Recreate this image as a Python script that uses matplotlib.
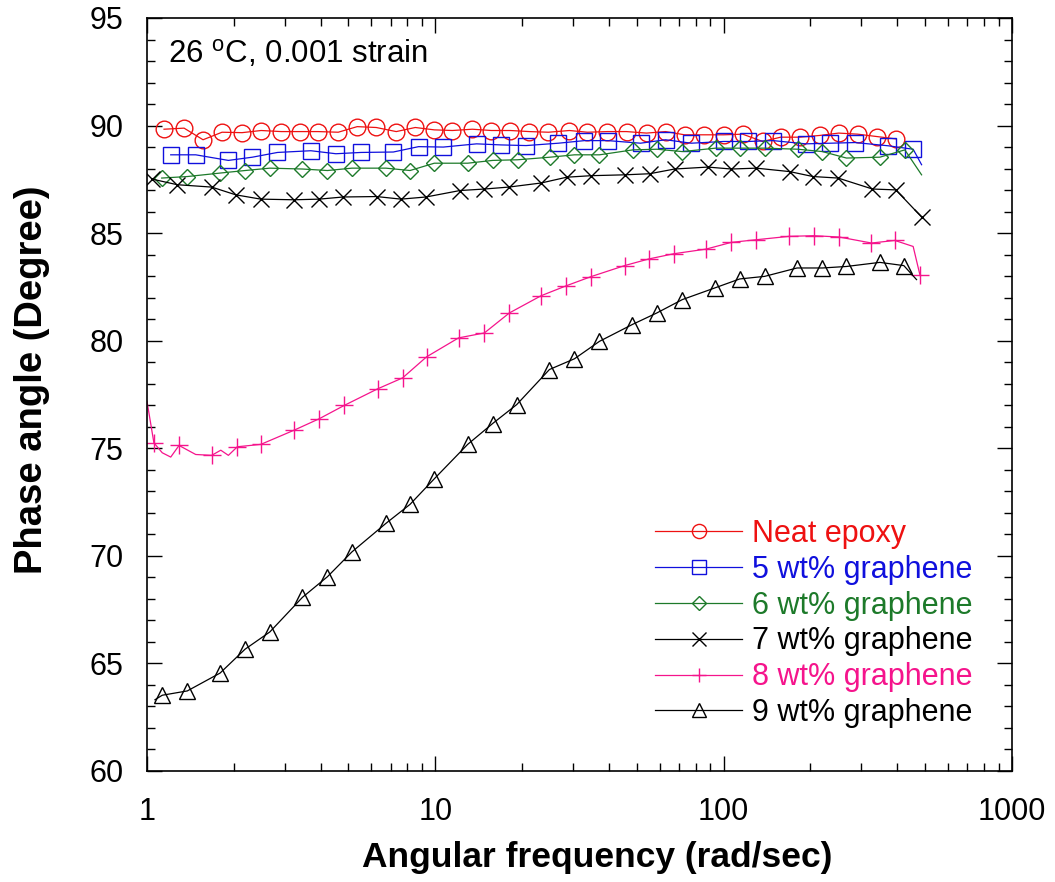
import matplotlib
matplotlib.use("Agg")
import matplotlib.pyplot as plt
from matplotlib.ticker import MultipleLocator, LogLocator, NullFormatter

plt.rcParams["font.family"] = ["Liberation Sans", "DejaVu Sans"]
plt.rcParams["mathtext.fontset"] = "custom"
plt.rcParams["mathtext.rm"] = "Liberation Sans"

# Neat epoxy
freq_neat = [1.146, 1.345, 1.565, 1.821, 2.137, 2.488, 2.920, 3.399, 3.925, 4.605,
             5.360, 6.239, 7.321, 8.522, 9.92, 11.46, 13.44, 15.65, 18.21, 21.20,
             24.69, 29.20, 33.72, 39.55, 46.05, 54.03, 62.89, 73.21, 85.22, 100.0,
             116.4, 136.6, 157.7, 183.6, 215.4, 250.6, 291.7, 339.6, 395.4]
phase_neat = [89.83, 89.88, 89.34, 89.69, 89.67, 89.77, 89.72, 89.72, 89.72, 89.69,
              89.95, 89.91, 89.72, 89.91, 89.80, 89.77, 89.83, 89.77, 89.77, 89.72,
              89.69, 89.77, 89.69, 89.72, 89.72, 89.65, 89.72, 89.57, 89.57, 89.57,
              89.60, 89.26, 89.46, 89.46, 89.54, 89.65, 89.60, 89.49, 89.38]

# 5 wt%
freq_5 = [1.209, 1.476, 1.916, 2.321, 2.835, 3.701, 4.521, 5.521, 7.150, 8.750,
          10.66, 13.91, 16.91, 20.65, 26.73, 32.92, 39.67, 51.49, 62.89, 77.24,
          100.0, 121.5, 148.3, 192.7, 234.7, 285.7, 372.0, 454.3, 485.9]
phase_5 = [88.64, 88.64, 88.38, 88.53, 88.75, 88.83, 88.69, 88.75, 88.77, 89.02,
           89.00, 89.15, 89.10, 89.07, 89.18, 89.30, 89.30, 89.18, 89.34, 89.18,
           89.26, 89.26, 89.30, 89.15, 89.18, 89.21, 89.06, 88.90, 88.18]

# 6 wt%
freq_6 = [1.125, 1.380, 1.788, 2.189, 2.667, 3.461, 4.227, 5.137, 6.744, 8.170,
          9.92, 12.95, 15.81, 19.31, 25.02, 30.39, 37.10, 48.43, 58.67, 71.89,
          93.8, 113.7, 138.8, 181.1, 220.2, 266.7, 348.1, 425.1, 485.9]
phase_6 = [87.56, 87.63, 87.79, 87.91, 88.02, 87.98, 87.91, 88.02, 88.02, 87.91,
           88.25, 88.25, 88.38, 88.41, 88.53, 88.64, 88.64, 88.87, 88.90, 88.79,
           88.95, 88.95, 88.95, 88.90, 88.79, 88.49, 88.53, 88.87, 87.71]

# 7 wt%
freq_7 = [1.043, 1.274, 1.677, 2.032, 2.482, 3.238, 3.956, 4.793, 6.256, 7.602,
          9.284, 12.18, 14.80, 17.97, 23.28, 28.58, 34.72, 45.33, 55.36, 67.60,
          88.2, 106.3, 129.9, 169.5, 204.2, 249.4, 328.3, 395.6, 485.9]
phase_7 = [87.51, 87.25, 87.14, 86.78, 86.58, 86.55, 86.58, 86.68, 86.70, 86.58,
           86.68, 86.98, 87.05, 87.14, 87.33, 87.60, 87.67, 87.71, 87.76, 87.98,
           88.07, 87.98, 88.02, 87.86, 87.63, 87.56, 87.05, 87.01, 85.75]

# 8 wt%
freq_8 = [1.0, 1.057, 1.130, 1.209, 1.292, 1.476, 1.677, 1.803, 1.916, 2.058,
          2.482, 3.238, 3.956, 4.831, 6.305, 7.700, 9.328, 12.04, 14.80, 18.07,
          23.28, 28.43, 34.72, 45.33, 55.04, 67.06, 87.1, 106.3, 129.2, 168.5,
          205.4, 251.4, 325.7, 392.5, 454.3, 479.3]
phase_8 = [77.19, 75.25, 74.79, 74.59, 75.13, 74.71, 74.67, 74.91, 74.67, 75.07,
           75.18, 75.84, 76.37, 76.99, 77.76, 78.27, 79.25, 80.13, 80.36, 81.29,
           82.09, 82.55, 82.98, 83.49, 83.80, 84.04, 84.26, 84.57, 84.69, 84.85,
           84.88, 84.82, 84.54, 84.66, 84.38, 83.07]

# 9 wt%
freq_9 = [1.066, 1.130, 1.380, 1.793, 2.189, 2.667, 3.461, 4.227, 5.137, 6.744,
          8.170, 9.92, 12.95, 15.81, 19.16, 24.88, 30.39, 37.10, 48.19, 58.67,
          71.89, 93.1, 113.7, 138.8, 179.7, 220.2, 266.7, 348.1, 421.7, 466.7]
phase_9 = [63.31, 63.52, 63.72, 64.55, 65.66, 66.46, 68.07, 69.03, 70.18, 71.51,
           72.39, 73.58, 75.18, 76.15, 77.03, 78.66, 79.16, 79.97, 80.75, 81.29,
           81.91, 82.45, 82.87, 82.99, 83.38, 83.38, 83.45, 83.64, 83.49, 82.84]

labels = ["Neat epoxy", "5 wt% graphene", "6 wt% graphene",
          "7 wt% graphene", "8 wt% graphene", "9 wt% graphene"]
x_ticks = [1, 10, 100, 1000]
x_tick_labels = ["1", "10", "100", "1000"]

RED, BLUE, GREEN, PINK = "#ee1111", "#1010dd", "#1d7a2a", "#f5148c"

# (x, y, colour, marker, which points carry a marker)
series = [
    (freq_neat, phase_neat, RED, "o", None),
    (freq_5, phase_5, BLUE, "s", list(range(len(freq_5) - 1))),
    (freq_6, phase_6, GREEN, "D", list(range(len(freq_6) - 1))),
    (freq_7, phase_7, "black", "x", None),
    (freq_8, phase_8, PINK, "+", [1, 4, 6] + list(range(9, 34)) + [35]),
    (freq_9, phase_9, "black", "^", list(range(1, len(freq_9) - 1))),
]
msizes = {"o": 12, "s": 11.5, "D": 8.5, "x": 12, "+": 12.5, "^": 11.5}

fig = plt.figure(figsize=(10.55, 8.82), dpi=100)
ax = fig.add_axes([0.1393, 0.1259, 0.8199, 0.8537])

for (xs, ys, color, mk, every), label in zip(series, labels):
    ax.plot(xs, ys, color=color, linewidth=0.9, marker=mk, markevery=every,
            markersize=msizes[mk], markerfacecolor="none", markeredgecolor=color,
            markeredgewidth=1.0, label=label)

ax.set_xscale("log")
ax.set_xlim(1, 1000)
ax.set_ylim(60, 95)
ax.yaxis.set_major_locator(MultipleLocator(5))
ax.yaxis.set_minor_locator(MultipleLocator(1))
ax.xaxis.set_minor_locator(LogLocator(base=10, subs=range(2, 10)))
ax.xaxis.set_minor_formatter(NullFormatter())
ax.set_xticks(x_ticks)
ax.set_xticklabels(x_tick_labels)

ax.tick_params(which="both", direction="in", top=True, right=True, width=1.0,
               labelsize=22)
ax.tick_params(which="major", length=11)
ax.tick_params(which="minor", length=5.5)
ax.tick_params(axis="y", which="major", pad=17)
ax.tick_params(axis="x", which="major", pad=19)
for s in ax.spines.values():
    s.set_linewidth(1.2)

ax.set_xlabel("Angular frequency (rad/sec)", fontsize=25.5, fontweight="bold")
ax.set_ylabel("Phase angle (Degree)", fontsize=27.5, fontweight="bold")
ax.xaxis.set_label_coords(0.521, -0.093)
ax.yaxis.set_label_coords(-0.112, 0.52)

ax.text(0.024, 0.973, "26 $^{\\mathrm{o}}$C, 0.001 strain", transform=ax.transAxes,
        fontsize=22.5, ha="left", va="top")

leg = ax.legend(loc="upper left", bbox_to_anchor=(655 / 1055, 1 - 519 / 882),
                bbox_transform=fig.transFigure, frameon=False, fontsize=22,
                borderpad=0, borderaxespad=0, handlelength=2.85,
                handletextpad=0.33, labelspacing=0.19, markerscale=0.85)
for txt, line in zip(leg.get_texts(), leg.get_lines()):
    txt.set_color(line.get_color())

fig.savefig("out.png", dpi=100)
